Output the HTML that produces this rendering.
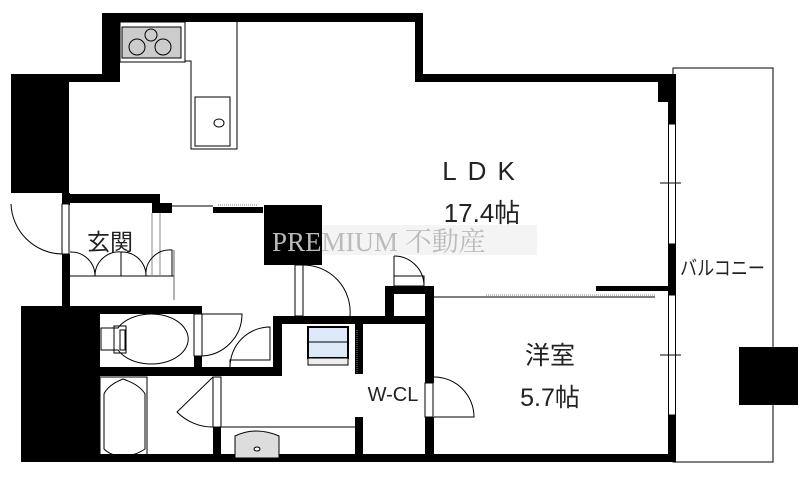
<!DOCTYPE html>
<html><head><meta charset="utf-8"><style>
html,body{margin:0;padding:0;background:#fff;}
svg{display:block;}
text{font-family:"Liberation Sans","Noto Sans CJK JP",sans-serif;fill:#222;}
</style></head><body>
<svg width="809" height="481" viewBox="0 0 809 481" xmlns="http://www.w3.org/2000/svg">
<rect width="809" height="481" fill="#fff"/>
<rect x="673" y="68" width="100" height="394" fill="none" stroke="#000" stroke-width="1"/>
<rect x="739" y="347" width="59" height="58" fill="#000"/>
<g fill="#000">
<rect x="102" y="13" width="321" height="9"/>
<rect x="102" y="13" width="18" height="69"/>
<rect x="11" y="74" width="109" height="8"/>
<rect x="11" y="74" width="58" height="119"/>
<rect x="415" y="13" width="8" height="69"/>
<rect x="415" y="74" width="261" height="8"/>
<rect x="658" y="74" width="18" height="28"/>
<rect x="668" y="74" width="8" height="50"/>
<rect x="668" y="244" width="8" height="51"/>
<rect x="668" y="415" width="8" height="47"/>
<rect x="21" y="454" width="655" height="8"/>
<rect x="21" y="306" width="79" height="156"/>
<rect x="62" y="193" width="8" height="12"/>
<rect x="62" y="254" width="8" height="52"/>
<rect x="62" y="194" width="98" height="9"/>
<rect x="152" y="203" width="20" height="10"/>
<rect x="213" y="207" width="50" height="6"/>
<rect x="264" y="205" width="58" height="60"/>
<rect x="100" y="306" width="102" height="8"/>
<rect x="194" y="356" width="8" height="11"/>
<rect x="100" y="367" width="182" height="9"/>
<rect x="273" y="316" width="9" height="60"/>
<rect x="273" y="316" width="161" height="8"/>
<rect x="213" y="427" width="8" height="31"/>
<rect x="355" y="324" width="8" height="50"/>
<rect x="355" y="417" width="8" height="41"/>
<rect x="425" y="286" width="9" height="97"/>
<rect x="425" y="417" width="9" height="44"/>
<rect x="385" y="286" width="9" height="38"/>
<rect x="385" y="286" width="49" height="8"/>
<rect x="596" y="286" width="80" height="5"/>
</g>
<g fill="#fff" stroke="#000" stroke-width="1">
<rect x="668.5" y="124" width="7" height="120"/>
<rect x="668.5" y="295" width="7" height="120"/>
</g>
<line x1="660" y1="183" x2="681" y2="183" stroke="#000"/>
<line x1="660" y1="355" x2="681" y2="355" stroke="#000"/>
<line x1="434" y1="297" x2="655" y2="297" stroke="#000"/>
<line x1="486" y1="295" x2="655" y2="295" stroke="#888" stroke-dasharray="1,1"/>
<line x1="172" y1="206" x2="213" y2="206" stroke="#000"/>
<line x1="218" y1="205" x2="257" y2="205" stroke="#888" stroke-dasharray="1,1"/>
<rect x="120" y="22" width="65" height="40" fill="#fff" stroke="#000"/>
<rect x="122" y="27" width="59" height="31" fill="#ccc" stroke="#000"/>
<g fill="none" stroke="#000">
<circle cx="151" cy="35" r="6"/><circle cx="137" cy="47" r="8"/><circle cx="163" cy="47" r="8"/>
<path d="M185 22 V61 H191 V149 H237 V22"/>
<rect x="195" y="97" width="35" height="49"/>
<ellipse cx="219" cy="123" rx="5" ry="4"/>
<path d="M11 204 A52 52 0 0 0 62 254"/>
<rect x="62" y="204" width="7" height="50" fill="#fff"/>
<line x1="70" y1="276" x2="174" y2="276"/>
<line x1="174" y1="250" x2="174" y2="300" stroke="#666"/>
<line x1="152" y1="213" x2="152" y2="276" stroke="#888"/>
<line x1="160" y1="213" x2="160" y2="276" stroke="#888"/>
<path d="M70 252 A24 24 0 0 1 95 276 A24 24 0 0 1 121 252 V276 M121 252 A24 24 0 0 1 146 276 A24 24 0 0 1 172 250 V276"/>
<rect x="295" y="265" width="8" height="51"/>
<path d="M303 265 A47 47 0 0 1 350 316"/>
<line x1="394" y1="256" x2="394" y2="286"/>
<rect x="394" y="276" width="30" height="10"/>
<path d="M394 256 A30 30 0 0 1 424 286"/>
<rect x="194" y="314" width="8" height="42" fill="#fff"/>
<path d="M202 314 H242 A42 42 0 0 1 202 356"/>
<path d="M230 367 V360 H270 V327 A40 40 0 0 0 230 367"/>
<path d="M101 328 H118 A37 25 0 1 1 118 350 H101 Z"/>
<rect x="114" y="326" width="12" height="27"/>
<rect x="120" y="330" width="5" height="20"/>
<rect x="100" y="377" width="47" height="81"/>
<path d="M123 379 Q140 385 145 394 V449 Q135 456 123 456 Q111 456 104 449 V394 Q108 385 123 379Z"/>
<rect x="213" y="377" width="8" height="50" fill="#fff"/>
<path d="M213 377 L177 412 A50 50 0 0 0 213 427"/>
<line x1="221" y1="427" x2="355" y2="427"/>
<rect x="425" y="383" width="8" height="34" fill="#fff"/>
<path d="M434 377 A40 40 0 0 1 474 417 H434"/>
<line x1="357" y1="330" x2="357" y2="374" stroke="#888" stroke-dasharray="1,1"/>
</g>
<path d="M235 458 V436 Q256 426 279 436 V458 Z" fill="#ddd" stroke="#000"/>
<ellipse cx="257" cy="449" rx="3" ry="2" fill="#fff" stroke="#000"/>
<rect x="308" y="327" width="40" height="31" fill="#dde8f8" stroke="#000" stroke-width="2"/>
<line x1="308" y1="342" x2="348" y2="342" stroke="#000"/>
<rect x="308" y="358" width="40" height="7" fill="#eee" stroke="#000"/>
<rect x="322" y="225" width="215" height="30" fill="#f4f4f4"/>
<text x="272" y="251" font-size="27" style="fill:#bbb;font-family:'Liberation Serif','Noto Serif CJK SC',serif">PREMIUM 不動産</text>
<text x="484" y="180" font-size="26" text-anchor="middle" letter-spacing="11">LDK</text>
<text x="482" y="222" font-size="26" text-anchor="middle">17.4帖</text>
<text x="550" y="364" font-size="25" text-anchor="middle">洋室</text>
<text x="550" y="406" font-size="25" text-anchor="middle">5.7帖</text>
<text x="393" y="401" font-size="20" text-anchor="middle">W-CL</text>
<text x="110" y="250" font-size="23" text-anchor="middle">玄関</text>
<text x="680" y="275" font-size="20" textLength="85" lengthAdjust="spacingAndGlyphs">バルコニー</text>
</svg>
</body></html>
